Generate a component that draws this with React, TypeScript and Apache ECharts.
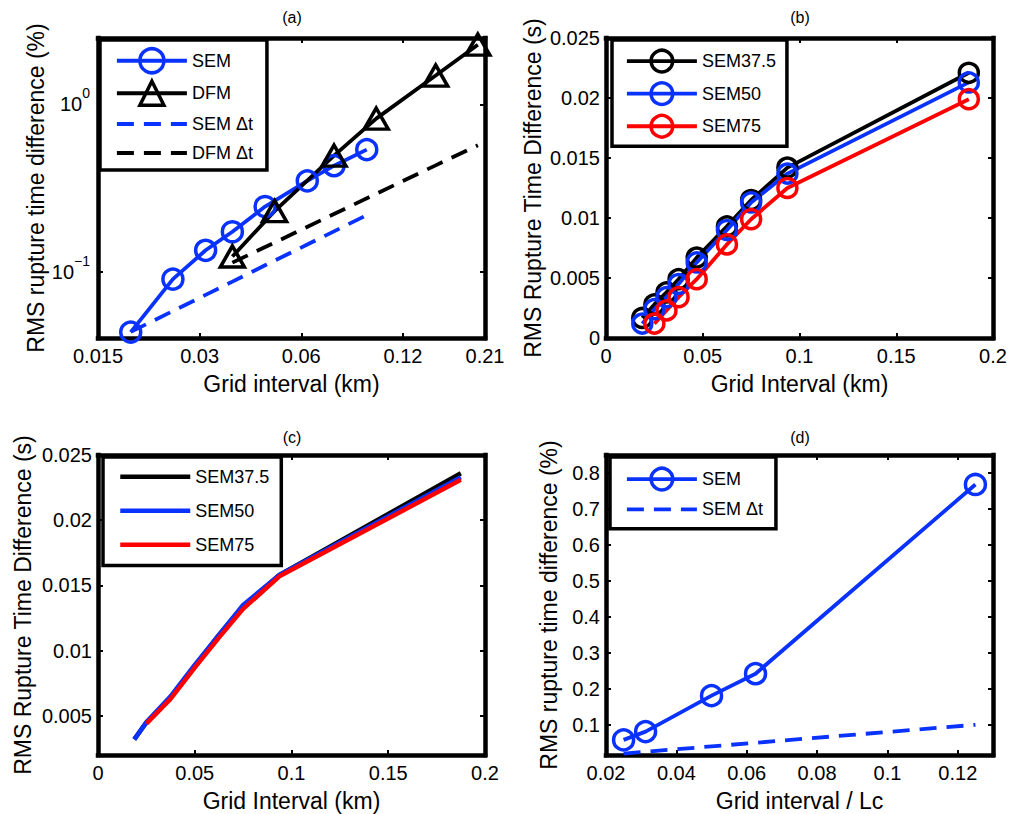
import React, { useEffect, useRef } from 'react';
import * as echarts from 'echarts';

const FONT = '"Liberation Sans", Arial, Helvetica, sans-serif';
const BLUE = '#0a32ff';
const RED = '#ff0000';
const BLACK = '#000000';
const HOLLOW = 'rgba(255,255,255,0)';

// ---------- (a) log-log: RMS rupture time difference (%) vs grid interval (km)
const aSemX = [0.01875, 0.025, 0.03125, 0.0375, 0.046875, 0.0625, 0.075, 0.09375];
const aSemY = [0.0434, 0.090, 0.134, 0.173, 0.245, 0.349, 0.430, 0.537];
const aDfmX = [0.0375, 0.05, 0.075, 0.1, 0.15, 0.2];
const aDfmY = [0.123, 0.230, 0.494, 0.823, 1.49, 2.28];
const aSemDtY = [0.0435, 0.058, 0.0725, 0.087, 0.109, 0.145, 0.174, 0.2175];
const aDfmDtY = [0.113, 0.149, 0.221, 0.292, 0.432, 0.57];
const aXTicks = [0.015, 0.03, 0.06, 0.12, 0.21];
const aYTicks = [0.1, 1];

// ---------- (b) RMS rupture time difference (s), with markers
const bX = [0.01875, 0.025, 0.03125, 0.0375, 0.046875, 0.0625, 0.075, 0.09375, 0.1875];
const bY375 = [0.00167, 0.0028, 0.0038, 0.0049, 0.0067, 0.0093, 0.0115, 0.0142, 0.0221];
const bY50 = [0.0012, 0.0024, 0.0034, 0.0045, 0.0063, 0.0090, 0.0113, 0.0137, 0.0213];
const bX75 = [0.025, 0.03125, 0.0375, 0.046875, 0.0625, 0.075, 0.09375, 0.1875];
const bY75 = [0.0012, 0.0023, 0.0034, 0.0049, 0.0078, 0.0099, 0.0125, 0.0199];
const bXTicks = [0, 0.05, 0.1, 0.15, 0.2];
const bYTicks = [0, 0.005, 0.01, 0.015, 0.02, 0.025];

// ---------- (c) RMS rupture time difference (s), lines only
const cX = [0.01875, 0.025, 0.0375, 0.05, 0.0625, 0.075, 0.09375, 0.1875];
const cY375 = [0.0032, 0.0045, 0.0064, 0.0088, 0.0112, 0.0134, 0.0158, 0.0236];
const cY50 = [0.0032, 0.0045, 0.0065, 0.0089, 0.0112, 0.0135, 0.0158, 0.0233];
const cX75 = [0.025, 0.0375, 0.05, 0.0625, 0.075, 0.09375, 0.1875];
const cY75 = [0.0044, 0.0063, 0.0087, 0.0110, 0.0132, 0.0157, 0.0231];
const cXTicks = [0, 0.05, 0.1, 0.15, 0.2];
const cYTicks = [0.005, 0.01, 0.015, 0.02, 0.025];

// ---------- (d) RMS rupture time difference (%) vs grid interval / Lc
const dX = [0.025, 0.03125, 0.05, 0.0625, 0.125];
const dSemY = [0.058, 0.081, 0.181, 0.242, 0.768];
const dDtY = [0.02, 0.025, 0.04, 0.05, 0.1];
const dXTicks = [0.02, 0.04, 0.06, 0.08, 0.1, 0.12];
const dYTicks = [0.1, 0.2, 0.3, 0.4, 0.5, 0.6, 0.7, 0.8];

const pairs = (xs: number[], ys: number[]) => xs.map((x, i) => [x, ys[i]]);
const fmtNum = (v: number) => String(+Number(v).toPrecision(6));

type AxisSpec = {
  type: 'value' | 'log';
  min: number;
  max: number;
  ticks: number[];
  name: string;
  nameGap: number;
  margin: number;
  formatter?: (v: number) => string;
  rich?: any;
};

function axisPair(dim: 'x' | 'y', gridIndex: number, s: AxisSpec) {
  const common: any = {
    type: s.type,
    gridIndex,
    min: s.min,
    max: s.max,
    splitLine: { show: false },
    minorTick: { show: false },
    axisLine: { show: true, onZero: false, lineStyle: { color: BLACK, width: 4.5, cap: 'square' } },
    axisTick: {
      show: true,
      inside: true,
      length: 5,
      customValues: s.ticks,
      lineStyle: { color: BLACK, width: 2 },
    },
  };
  if (s.type === 'log') common.logBase = 10;
  const main = {
    ...common,
    position: dim === 'x' ? 'bottom' : 'left',
    name: s.name,
    nameLocation: 'middle',
    nameGap: s.nameGap,
    nameRotate: dim === 'y' ? 90 : 0,
    nameTextStyle: { fontSize: 23, color: BLACK, fontFamily: FONT },
    axisLabel: {
      show: true,
      customValues: s.ticks,
      formatter: s.formatter || fmtNum,
      fontSize: 20,
      color: BLACK,
      fontFamily: FONT,
      margin: s.margin,
      rich: s.rich,
    },
  };
  const mirror = {
    ...common,
    position: dim === 'x' ? 'top' : 'right',
    axisLabel: { show: false },
  };
  return [main, mirror];
}

const grids = [
  { left: 98, top: 38, width: 387, height: 300 },
  { left: 606, top: 38, width: 387, height: 300 },
  { left: 98, top: 455, width: 387, height: 300 },
  { left: 606, top: 455, width: 387, height: 300 },
];

const supRich = {
  b: { fontSize: 20, lineHeight: 36, fontFamily: FONT, color: BLACK },
  s: { fontSize: 14, lineHeight: 14, verticalAlign: 'top', fontFamily: FONT, color: BLACK },
};

function buildOption(): any {
  const xAxis = [
    ...axisPair('x', 0, { type: 'log', min: 0.015, max: 0.21, ticks: aXTicks, name: 'Grid interval (km)', nameGap: 34, margin: 8 }),
    ...axisPair('x', 1, { type: 'value', min: 0, max: 0.2, ticks: bXTicks, name: 'Grid Interval (km)', nameGap: 34, margin: 8 }),
    ...axisPair('x', 2, { type: 'value', min: 0, max: 0.2, ticks: cXTicks, name: 'Grid Interval (km)', nameGap: 34, margin: 8 }),
    ...axisPair('x', 3, { type: 'value', min: 0.02, max: 0.13, ticks: dXTicks, name: 'Grid interval / Lc', nameGap: 34, margin: 8 }),
  ];
  const yAxis = [
    ...axisPair('y', 0, {
      type: 'log', min: 0.04, max: 2.5, ticks: aYTicks, name: 'RMS rupture time difference (%)', nameGap: 50, margin: 8,
      formatter: (v: number) => (Math.abs(v - 1) < 1e-6 ? '{b|10}{s|0}' : '{b|10}{s|\u22121}'),
      rich: supRich,
    }),
    ...axisPair('y', 1, { type: 'value', min: 0, max: 0.025, ticks: bYTicks, name: 'RMS Rupture Time Difference (s)', nameGap: 62, margin: 6 }),
    ...axisPair('y', 2, { type: 'value', min: 0.002, max: 0.025, ticks: cYTicks, name: 'RMS Rupture Time Difference (s)', nameGap: 64, margin: 6 }),
    ...axisPair('y', 3, { type: 'value', min: 0.016, max: 0.85, ticks: dYTicks, name: 'RMS rupture time difference (%)', nameGap: 46, margin: 6 }),
  ];

  const marker = (color: string, size: any, symbol = 'circle') => ({
    symbol,
    symbolSize: size,
    showSymbol: true,
    itemStyle: { color: HOLLOW, borderColor: color, borderWidth: 3.5 },
  });
  const plain = (color: string, width: number, dashed = false) => ({
    symbol: 'none',
    lineStyle: { color, width, type: dashed ? [17, 10] : 'solid' },
  });

  const series: any[] = [
    // (a)
    { name: 'SEM', type: 'line', xAxisIndex: 0, yAxisIndex: 0, data: pairs(aSemX, aSemY), ...marker(BLUE, 20), lineStyle: { color: BLUE, width: 3.8 } },
    { name: 'DFM', type: 'line', xAxisIndex: 0, yAxisIndex: 0, data: pairs(aDfmX, aDfmY), ...marker(BLACK, [24, 21], 'triangle'), lineStyle: { color: BLACK, width: 3.8 } },
    { name: 'SEM \u0394t', type: 'line', xAxisIndex: 0, yAxisIndex: 0, data: pairs(aSemX, aSemDtY), ...plain(BLUE, 3.8, true) },
    { name: 'DFM \u0394t', type: 'line', xAxisIndex: 0, yAxisIndex: 0, data: pairs(aDfmX, aDfmDtY), ...plain(BLACK, 3.8, true) },
    // (b)
    { name: 'SEM37.5', type: 'line', xAxisIndex: 2, yAxisIndex: 2, data: pairs(bX, bY375), ...marker(BLACK, 19), lineStyle: { color: BLACK, width: 3.8 } },
    { name: 'SEM50', type: 'line', xAxisIndex: 2, yAxisIndex: 2, data: pairs(bX, bY50), ...marker(BLUE, 19), lineStyle: { color: BLUE, width: 3.8 } },
    { name: 'SEM75', type: 'line', xAxisIndex: 2, yAxisIndex: 2, data: pairs(bX75, bY75), ...marker(RED, 19), lineStyle: { color: RED, width: 3.8 } },
    // (c)
    { name: 'SEM37.5', type: 'line', xAxisIndex: 4, yAxisIndex: 4, data: pairs(cX, cY375), ...plain(BLACK, 4.5) },
    { name: 'SEM50', type: 'line', xAxisIndex: 4, yAxisIndex: 4, data: pairs(cX, cY50), ...plain(BLUE, 4.5) },
    { name: 'SEM75', type: 'line', xAxisIndex: 4, yAxisIndex: 4, data: pairs(cX75, cY75), ...plain(RED, 4.5) },
    // (d)
    { name: 'SEM', type: 'line', xAxisIndex: 6, yAxisIndex: 6, data: pairs(dX, dSemY), ...marker(BLUE, 20), lineStyle: { color: BLUE, width: 3.8 } },
    { name: 'SEM \u0394t', type: 'line', xAxisIndex: 6, yAxisIndex: 6, data: pairs(dX, dDtY), ...plain(BLUE, 3.8, true) },
  ].map((s) => ({ ...s, animation: false, clip: false, emphasis: { disabled: true } }));

  const legendBase = (over: any) => ({
    orient: 'vertical',
    itemWidth: 70,
    textStyle: { fontSize: 18, color: BLACK, fontFamily: FONT },
    backgroundColor: '#ffffff',
    borderColor: BLACK,
    borderWidth: 3.5,
    borderRadius: 0,
    selectedMode: false,
    itemStyle: { borderWidth: 3.5 },
    lineStyle: { width: 3.8 },
    ...over,
  });
  const noSym = (name: string) => ({ name, itemStyle: { opacity: 0 } });

  const legend = [
    legendBase({ left: 100, top: 40, itemHeight: 30, itemGap: 5, padding: [7, 14, 5, 15],
      data: ['SEM', 'DFM', noSym('SEM \u0394t'), noSym('DFM \u0394t')] }),
    legendBase({ left: 612, top: 40, itemHeight: 27, itemGap: 7.5, padding: [8.5, 11, 7.5, 13],
      data: ['SEM37.5', 'SEM50', 'SEM75'] }),
    legendBase({ left: 103, top: 457, itemHeight: 20, itemGap: 14.5, padding: [10, 12, 11, 15],
      lineStyle: { width: 4.5 },
      data: [noSym('SEM37.5'), noSym('SEM50'), noSym('SEM75')] }),
    legendBase({ left: 610, top: 457, itemHeight: 27, itemGap: 7, padding: [9.5, 13, 8.5, 15],
      data: ['SEM', noSym('SEM \u0394t')] }),
  ];

  const title = (text: string, x: number, y: number) => ({
    type: 'text', x, y, silent: true,
    style: { text, fill: BLACK, fontSize: 16, fontFamily: FONT, align: 'center', verticalAlign: 'middle' },
  });

  return {
    animation: false,
    backgroundColor: '#ffffff',
    textStyle: { fontFamily: FONT },
    grid: grids.map((g) => ({ ...g, containLabel: false, show: false })),
    xAxis,
    yAxis,
    legend,
    series,
    graphic: [
      title('(a)', 292, 17),
      title('(b)', 800, 17),
      title('(c)', 292, 437),
      title('(d)', 800, 437),
    ],
  };
}

export default function App() {
  const ref = useRef<HTMLDivElement>(null);
  useEffect(() => {
    if (!ref.current) return;
    const chart = echarts.init(ref.current, null, { renderer: 'svg' });
    chart.setOption(buildOption());
    return () => chart.dispose();
  }, []);
  return (
    <div
      ref={ref}
      style={{ position: 'absolute', left: 0, top: 0, width: 1011, height: 814, background: '#fff' }}
    />
  );
}
